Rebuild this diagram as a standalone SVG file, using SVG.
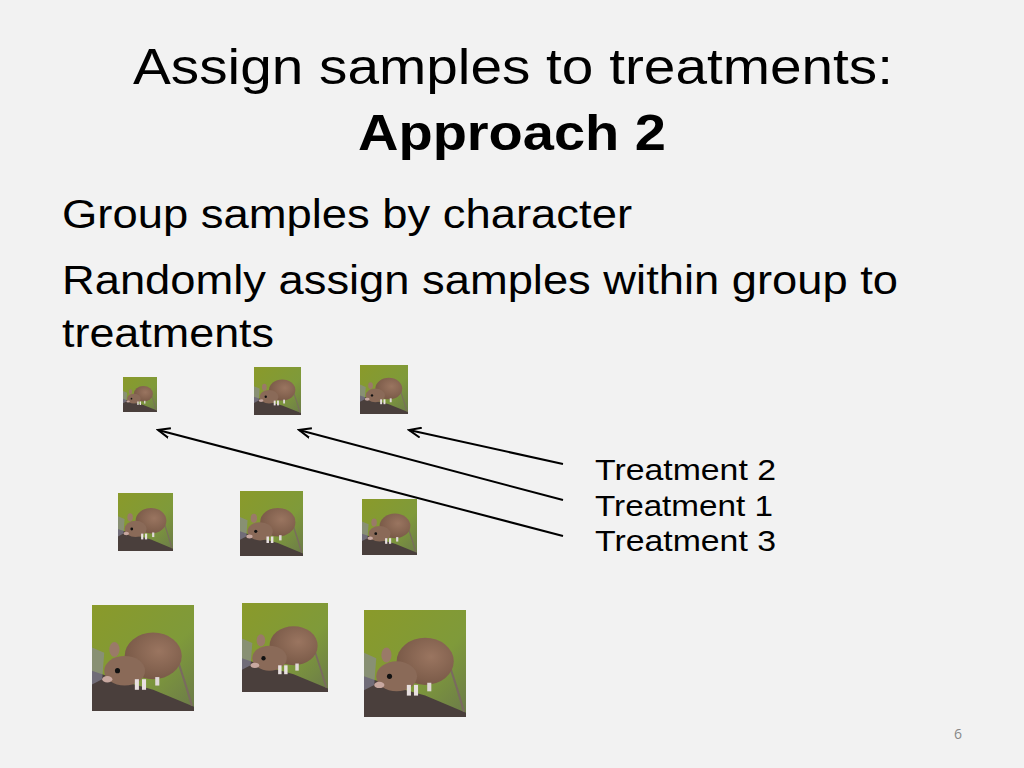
<svg xmlns="http://www.w3.org/2000/svg" width="1024" height="768" viewBox="0 0 1024 768">
<style>
.t{font-family:"Liberation Sans",Arial,sans-serif;fill:#000}
.c{stroke:#000;stroke-width:2;fill:none;marker-end:url(#ah)}
</style>
<defs>
<marker id="ah" markerWidth="14" markerHeight="12" refX="12" refY="6" orient="auto" markerUnits="userSpaceOnUse"><path d="M0,1 L12,6 L0,11" fill="none" stroke="#000" stroke-width="2"/></marker>
<linearGradient id="bg" x1="0" y1="0" x2="1" y2="1"><stop offset="0" stop-color="#8a9a2a"/><stop offset="0.6" stop-color="#7f9a3a"/><stop offset="1" stop-color="#6b7a4a"/></linearGradient>
<radialGradient id="fur" cx="0.6" cy="0.4" r="0.6"><stop offset="0" stop-color="#9a7560"/><stop offset="1" stop-color="#7a5a48"/></radialGradient>
<symbol id="mouse" viewBox="0 0 100 100" preserveAspectRatio="none">
<rect width="100" height="100" fill="url(#bg)"/>
<path d="M0,62 L30,72 L60,80 L100,96 L100,100 L0,100 Z" fill="#4a3f3c"/>
<path d="M0,40 L12,45 L10,70 L0,75 Z" fill="#8a8aa0" opacity="0.6"/>
<path d="M85,55 Q92,75 98,95" stroke="#7a6a60" stroke-width="2" fill="none"/>
<ellipse cx="60" cy="48" rx="28" ry="22" fill="url(#fur)"/>
<ellipse cx="32" cy="62" rx="20" ry="14" fill="#8a6a58"/>
<ellipse cx="22" cy="42" rx="5" ry="7" fill="#9a7a68"/>
<circle cx="25" cy="62" r="2.5" fill="#111"/>
<ellipse cx="15" cy="70" rx="5" ry="3" fill="#c8a8a0"/>
<rect x="42" y="70" width="4" height="10" fill="#e8e0e0"/>
<rect x="49" y="70" width="4" height="10" fill="#e8e0e0"/>
<rect x="62" y="68" width="4" height="8" fill="#e0d8d8"/>
</symbol>
</defs>
<rect width="1024" height="768" fill="#f2f2f2"/>
<g id="title">
<text class="t" x="133" y="84" font-size="50" textLength="760" lengthAdjust="spacingAndGlyphs">Assign samples to treatments:</text>
<text class="t" x="358" y="150" font-size="50" font-weight="bold" textLength="308" lengthAdjust="spacingAndGlyphs">Approach 2</text>
</g>
<g id="body">
<text class="t" x="62" y="228" font-size="40" textLength="570" lengthAdjust="spacingAndGlyphs">Group samples by character</text>
<text class="t" x="62" y="294" font-size="40" textLength="836" lengthAdjust="spacingAndGlyphs">Randomly assign samples within group to</text>
<text class="t" x="62" y="347" font-size="40" textLength="212" lengthAdjust="spacingAndGlyphs">treatments</text>
</g>
<g id="mice">
<use href="#mouse" x="123" y="377" width="34" height="35"/>
<use href="#mouse" x="254" y="367" width="47" height="48"/>
<use href="#mouse" x="360" y="365" width="48" height="49"/>
<use href="#mouse" x="118" y="493" width="55" height="58"/>
<use href="#mouse" x="240" y="491" width="63" height="65"/>
<use href="#mouse" x="362" y="499" width="55" height="56"/>
<use href="#mouse" x="92" y="605" width="102" height="106"/>
<use href="#mouse" x="242" y="603" width="86" height="89"/>
<use href="#mouse" x="364" y="610" width="102" height="107"/>
</g>
<g id="labels">
<text class="t" x="595" y="480" font-size="30" textLength="181" lengthAdjust="spacingAndGlyphs">Treatment 2</text>
<text class="t" x="595" y="516" font-size="30" textLength="178" lengthAdjust="spacingAndGlyphs">Treatment 1</text>
<text class="t" x="595" y="551" font-size="30" textLength="181" lengthAdjust="spacingAndGlyphs">Treatment 3</text>
</g>
<g id="connectors">
<line class="c" x1="563" y1="464" x2="409" y2="430"/>
<line class="c" x1="563" y1="500" x2="299" y2="430"/>
<line class="c" x1="563" y1="536" x2="158" y2="430"/>
</g>
<text x="958" y="739" font-size="14" fill="#888" text-anchor="middle" font-family="'Open Sans',sans-serif">6</text>
</svg>
